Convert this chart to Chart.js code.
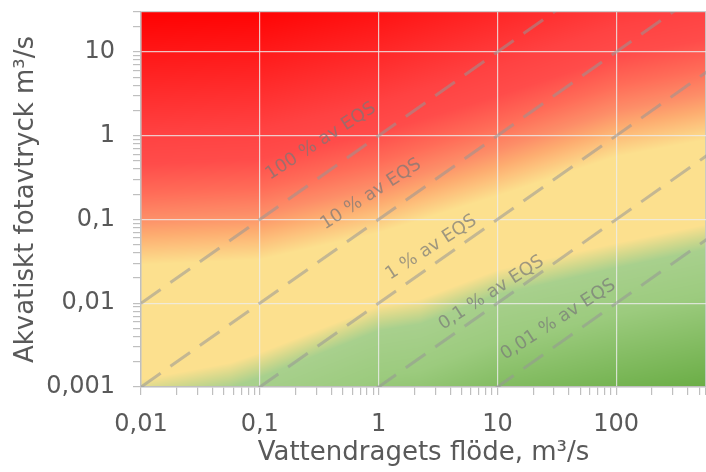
<!DOCTYPE html>
<html>
<head>
<meta charset="utf-8">
<script src="https://cdn.jsdelivr.net/npm/chart.js@4/dist/chart.umd.min.js"></script>
<style>
  html, body { margin: 0; padding: 0; background: #fff; }
  #wrap { width: 706px; height: 472px; }
</style>
</head>
<body>
<div id="wrap"><canvas id="c"></canvas></div>
<script>
// axes
const xDecades = [0.01, 0.1, 1, 10, 100];
const xTickLabels = ['0,01', '0,1', '1', '10', '100'];
const yDecades = [0.001, 0.01, 0.1, 1, 10];
const yTickLabels = ['0,001', '0,01', '0,1', '1', '10'];
const xMin = 0.01, xMax = 570;
const yMin = 0.001, yMax = 30;

// EQS lines, two end points each
const eqsNames = ['100 % av EQS', '10 % av EQS', '1 % av EQS', '0,1 % av EQS', '0,01 % av EQS'];
const flowEnds = [0.01, 1000];
const eqs100 = [0.01, 1000];
const eqs10 = [0.001, 100];
const eqs1 = [0.0001, 10];
const eqs01 = [0.00001, 1];
const eqs001 = [0.000001, 0.1];
const eqsLines = [eqs100, eqs10, eqs1, eqs01, eqs001];

const FONT = '"DejaVu Sans", Verdana, sans-serif';
const TXT = '#595959';
const AXIS = '#bfbfbf';

// where the line labels sit (data coords, bottom-left of text)
const labelAnchors = [[0.122, 0.297], [0.354, 0.0752], [1.25, 0.019], [3.48, 0.0048], [11.6, 0.0021]];

// background bands: edges in log10 space (lx -> ly)
const redEdge = [[-2, -1.09], [-1, -1.03], [0, -0.71], [1, -0.27], [2, 0.2], [2.75, 0.4], [3, 0.45]];
const greenEdge = [[-2, -3.06], [-1.25, -2.86], [-1, -2.74], [0, -2.18], [0.35, -2.1], [1, -1.75], [2, -1.43], [2.75, -1.21], [3, -1.15]];
const YEL = [252, 224, 142];
const redStops = [[-0.45, YEL], [-0.1, [253, 172, 112]], [0.1, [253, 142, 104]], [0.4, [255, 108, 88]], [0.75, [255, 76, 74]], [1.1, [255, 66, 66]], [2.6, [255, 0, 0]]];
const greenStops = [[-1.8, [106, 173, 69]], [-0.7, [156, 203, 126]], [-0.15, [168, 208, 141]], [0, [210, 216, 140]], [0.15, YEL]];

function interp(pts, v) {
  if (v <= pts[0][0]) return pts[0][1];
  for (let i = 1; i < pts.length; i++) {
    if (v <= pts[i][0]) {
      const t = (v - pts[i - 1][0]) / (pts[i][0] - pts[i - 1][0]);
      return pts[i - 1][1] + t * (pts[i][1] - pts[i - 1][1]);
    }
  }
  return pts[pts.length - 1][1];
}

function ramp(stops, v) {
  if (v <= stops[0][0]) return stops[0][1];
  for (let i = 1; i < stops.length; i++) {
    if (v <= stops[i][0]) {
      const t = (v - stops[i - 1][0]) / (stops[i][0] - stops[i - 1][0]);
      const a = stops[i - 1][1], b = stops[i][1];
      return [a[0] + t * (b[0] - a[0]), a[1] + t * (b[1] - a[1]), a[2] + t * (b[2] - a[2])];
    }
  }
  return stops[stops.length - 1][1];
}

function isDecade(v) {
  const l = Math.log10(v);
  return Math.abs(l - Math.round(l)) < 1e-9;
}

function logTicks(min, max) {
  const out = [];
  for (let e = Math.floor(Math.log10(min)); e <= Math.ceil(Math.log10(max)); e++) {
    for (let m = 1; m < 10; m++) {
      const v = +(m * Math.pow(10, e)).toPrecision(6);
      if (v >= min && v <= max) out.push({ value: v });
    }
  }
  if (out[out.length - 1].value < max) out.push({ value: max });
  return out;
}

function labelFor(decades, labels) {
  return (value) => {
    const i = decades.findIndex(d => Math.abs(d - value) / d < 1e-9);
    return i >= 0 ? labels[i] : '';
  };
}

const bgPlugin = {
  id: 'bg',
  beforeDraw(chart) {
    const { ctx, chartArea: a, scales: { x, y } } = chart;
    const w = Math.round(a.right - a.left), h = Math.round(a.bottom - a.top);
    const off = document.createElement('canvas');
    off.width = w; off.height = h;
    const octx = off.getContext('2d');
    const img = octx.createImageData(w, h);
    const R = [], G = [];
    for (let i = 0; i < w; i++) {
      const lx = Math.log10(x.getValueForPixel(a.left + i + 0.5));
      R.push(interp(redEdge, lx));
      G.push(interp(greenEdge, lx));
    }
    for (let j = 0; j < h; j++) {
      const ly = Math.log10(y.getValueForPixel(a.top + j + 0.5));
      for (let i = 0; i < w; i++) {
        const dr = ly - R[i], dg = ly - G[i];
        let c;
        if (dg < 0.15) c = ramp(greenStops, dg);
        else if (dr > -0.45) c = ramp(redStops, dr);
        else c = YEL;
        const k = (j * w + i) * 4;
        img.data[k] = c[0]; img.data[k + 1] = c[1]; img.data[k + 2] = c[2]; img.data[k + 3] = 255;
      }
    }
    octx.putImageData(img, 0, 0);
    ctx.drawImage(off, a.left, a.top);
  }
};

const textPlugin = {
  id: 'texts',
  afterDatasetsDraw(chart) {
    const { ctx, scales: { x, y } } = chart;
    ctx.save();
    ctx.font = '18px ' + FONT;
    ctx.fillStyle = 'rgba(120,120,120,0.7)';
    ctx.textAlign = 'left';
    ctx.textBaseline = 'alphabetic';
    labelAnchors.forEach(([vx, vy], i) => {
      ctx.save();
      ctx.translate(x.getPixelForValue(vx), y.getPixelForValue(vy));
      ctx.rotate(-33 * Math.PI / 180);
      ctx.fillText(eqsNames[i], 0, 0);
      ctx.restore();
    });
    ctx.restore();
  },
  afterDraw(chart) {
    const { ctx, chartArea: a } = chart;
    ctx.save();
    ctx.font = '26px ' + FONT;
    ctx.fillStyle = TXT;
    ctx.textAlign = 'center';
    ctx.textBaseline = 'alphabetic';
    ctx.fillText('Vattendragets flöde, m³/s', (a.left + a.right) / 2, 460);
    ctx.translate(33, (a.top + a.bottom) / 2);
    ctx.rotate(-Math.PI / 2);
    ctx.fillText('Akvatiskt fotavtryck m³/s', 0, 0);
    ctx.restore();
  }
};

function axisOpts(min, max, decades, labels, pad) {
  return {
    type: 'logarithmic',
    min: min,
    max: max,
    afterBuildTicks: (s) => { s.ticks = logTicks(min, max); },
    border: { display: true, color: AXIS, width: 1.5 },
    grid: {
      drawTicks: true,
      tickLength: 8,
      lineWidth: 1.2,
      color: (c) => {
        const v = c.tick ? c.tick.value : 0;
        if (isDecade(v)) return 'rgba(236,236,236,0.8)';
        if (v === max) return 'rgba(200,200,200,0.9)';
        return 'rgba(0,0,0,0)';
      },
      tickColor: AXIS
    },
    ticks: {
      autoSkip: false,
      maxRotation: 0,
      minRotation: 0,
      padding: pad,
      color: TXT,
      font: { family: FONT, size: 24 },
      callback: labelFor(decades, labels)
    }
  };
}

const xOpts = axisOpts(xMin, xMax, xDecades, xTickLabels, 15);
xOpts.afterFit = (s) => { s.height = 85; s.paddingLeft = 0; s.paddingRight = 0; };
const yOpts = axisOpts(yMin, yMax, yDecades, yTickLabels, 18);
yOpts.afterFit = (s) => { s.width = 141; s.paddingTop = 0; s.paddingBottom = 0; };

new Chart(document.getElementById('c'), {
  type: 'scatter',
  data: {
    datasets: eqsLines.map((ys, i) => ({
      label: eqsNames[i],
      data: flowEnds.map((fx, j) => ({ x: fx, y: ys[j] })),
      showLine: true,
      borderColor: 'rgba(150,150,150,0.55)',
      borderWidth: 3,
      borderDash: [24, 12],
      pointRadius: 0,
      fill: false
    }))
  },
  options: {
    responsive: true,
    maintainAspectRatio: false,
    animation: false,
    layout: { padding: { top: 12, right: 0, left: 0, bottom: 0 } },
    plugins: { legend: { display: false }, tooltip: { enabled: false } },
    scales: { x: xOpts, y: yOpts }
  },
  plugins: [bgPlugin, textPlugin]
});
</script>
</body>
</html>
